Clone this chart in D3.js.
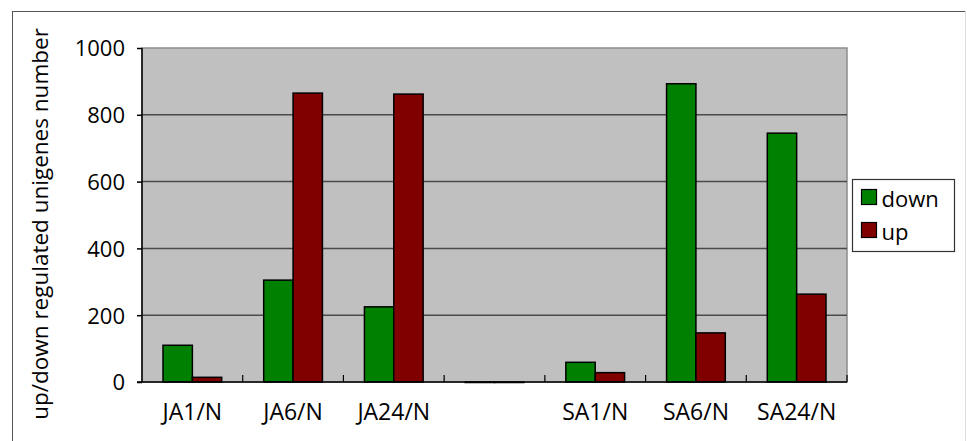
<!DOCTYPE html>
<html>
<head>
<meta charset="utf-8">
<script src="https://cdn.jsdelivr.net/npm/d3@7.9.0/dist/d3.min.js"></script>
<style>
  body { margin: 0; background: #fff; }
  svg text { font-family: "Open Sans", "Noto Sans", sans-serif; fill: #000; }
</style>
</head>
<body>
<div id="chart"></div>
<script>
const categories = ["JA1/N", "JA6/N", "JA24/N", "", "SA1/N", "SA6/N", "SA24/N"];
const downValues = [110, 305, 225, 0, 59, 893, 745];
const upValues = [14, 865, 862, 0, 28, 147, 263];
const seriesNames = ["down", "up"];
const yTicks = [0, 200, 400, 600, 800, 1000];

const colors = { down: "#008000", up: "#800000" };

const W = 967, H = 441;
const margin = { top: 48, right: 120, bottom: 59, left: 142 };
const width = 847 - margin.left;
const height = 382 - margin.top;

const svg = d3.select("#chart").append("svg")
  .attr("width", W)
  .attr("height", H);

// outer frame
svg.append("rect")
  .attr("x", 12.5).attr("y", 11.5)
  .attr("width", 953).attr("height", 440)
  .attr("fill", "none")
  .attr("stroke", "#555")
  .attr("stroke-width", 1);
svg.append("line")
  .attr("x1", 965.5).attr("x2", 965.5).attr("y1", 11).attr("y2", H)
  .attr("stroke", "#ddd");

const g = svg.append("g").attr("transform", `translate(${margin.left},${margin.top})`);

const x0 = d3.scaleBand().domain(categories.map((d, i) => i)).range([0, width]);
const x1 = d3.scaleBand().domain(seriesNames).range([21, x0.bandwidth() - 21]);
const y = d3.scaleLinear().domain([0, 1000]).range([height, 0]);

// plot background
g.append("rect")
  .attr("width", width).attr("height", height)
  .attr("fill", "#c0c0c0")
  .attr("stroke", "#8c8c8c")
  .attr("stroke-width", 1.5);

// gridlines
g.append("g")
  .selectAll("line")
  .data(yTicks.filter(d => d > 0 && d < 1000))
  .enter().append("line")
  .attr("x1", 0).attr("x2", width)
  .attr("y1", d => y(d)).attr("y2", d => y(d))
  .attr("stroke", "#4a4a4a")
  .attr("stroke-width", 1.5);

// bars
const rows = categories.map((c, i) => ({ i, down: downValues[i], up: upValues[i] }));
g.append("g")
  .selectAll("g")
  .data(rows)
  .enter().append("g")
  .attr("transform", d => `translate(${x0(d.i)},0)`)
  .selectAll("rect")
  .data(d => seriesNames.map(key => ({ key, value: d[key] })))
  .enter().append("rect")
  .attr("x", d => x1(d.key))
  .attr("y", d => y(d.value))
  .attr("width", x1.bandwidth())
  .attr("height", d => Math.max(0.5, height - y(d.value)))
  .attr("fill", d => colors[d.key])
  .attr("stroke", "#000")
  .attr("stroke-width", 1.5);

// y axis
const yAxis = g.append("g")
  .call(d3.axisLeft(y).tickValues(yTicks).tickFormat(d3.format("d")).tickSize(5).tickPadding(12));
yAxis.select(".domain").attr("stroke", "#000").attr("stroke-width", 1.5).attr("d", `M0,0V${height}`);
yAxis.selectAll(".tick line").attr("stroke", "#000").attr("stroke-width", 1.5);
yAxis.selectAll("text").style("font-size", "22px").attr("dy", "0.36em");

// x axis
const xAxisG = g.append("g").attr("transform", `translate(0,${height})`);
xAxisG.append("line")
  .attr("x1", -5).attr("x2", width)
  .attr("stroke", "#000").attr("stroke-width", 1.5);
xAxisG.selectAll(".xtick")
  .data(d3.range(1, categories.length + 1))
  .enter().append("line")
  .attr("x1", d => d * x0.step()).attr("x2", d => d * x0.step())
  .attr("y1", 0).attr("y2", -7)
  .attr("stroke", "#000").attr("stroke-width", 1.2);
xAxisG.selectAll(".xlabel")
  .data(rows)
  .enter().append("text")
  .attr("x", d => x0(d.i) + x0.bandwidth() / 2)
  .attr("y", 38)
  .attr("text-anchor", "middle")
  .style("font-size", "23px")
  .text(d => categories[d.i]);

// y axis title
svg.append("text")
  .attr("transform", `translate(48,224) rotate(-90)`)
  .attr("text-anchor", "middle")
  .style("font-size", "22.5px")
  .text("up/down regulated unigenes number");

// legend
const legend = svg.append("g").attr("transform", "translate(852.5,179.5)");
legend.append("rect")
  .attr("width", 102).attr("height", 72)
  .attr("fill", "#fff").attr("stroke", "#333").attr("stroke-width", 1.2);
const items = legend.selectAll(".item")
  .data(seriesNames)
  .enter().append("g")
  .attr("transform", (d, i) => `translate(9,${10 + i * 33})`);
items.append("rect")
  .attr("width", 15).attr("height", 15)
  .attr("fill", d => colors[d])
  .attr("stroke", "#000").attr("stroke-width", 1.2);
items.append("text")
  .attr("x", 20).attr("y", 17)
  .style("font-size", "22px")
  .text(d => d);
</script>
</body>
</html>
